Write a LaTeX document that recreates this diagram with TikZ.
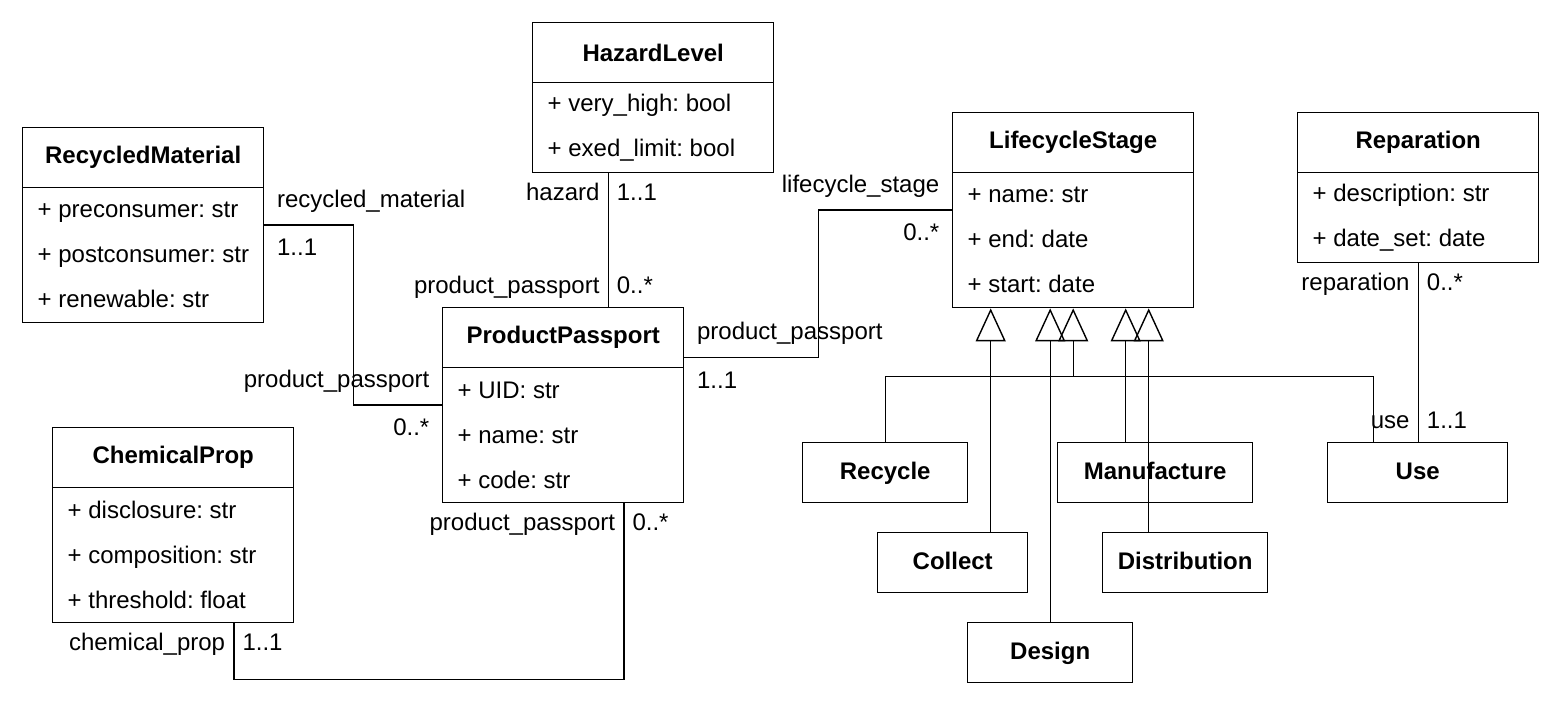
\documentclass[tikz,border=0pt]{standalone}
\usepackage{fontspec}
\setmainfont{Liberation Sans}
\usetikzlibrary{shapes.multipart,arrows.meta,calc}

\newcommand{\ufont}{\fontsize{12}{14.4}\selectfont\frenchspacing}
\newcommand{\ctitle}[1]{\parbox[c][29.3pt][c]{120.5pt}{\ufont\centering\bfseries #1}}
\newcommand{\cattr}[2]{\parbox[c][#1][c]{120.5pt}{\ufont\raggedright\leftskip=7.5pt\baselineskip=22.5pt #2}}

\tikzset{
	cls/.style={draw,line width=0.7pt,rectangle split,rectangle split parts=2,inner sep=0pt,anchor=north west,font=\ufont},
	sub/.style={draw,line width=0.7pt,anchor=north west,minimum height=30pt,inner sep=0pt,text height=9pt,text depth=2.5pt,font=\ufont\bfseries},
	lbl/.style={inner sep=4pt,text height=9pt,text depth=2.5pt,font=\ufont},
	hlbl/.style={lbl,inner sep=6pt},
	assoc/.style={line width=0.7pt},
	inh/.style={line width=0.7pt,-{Triangle[open,length=16.5pt,width=15pt]}}
}

\begin{document}
\begin{tikzpicture}[x=0.5pt,y=-0.5pt]
	\useasboundingbox (0,0) rectangle (1560,705);
	\node[cls] (hz) at (532,22) {\ctitle{HazardLevel}\nodepart{two}\cattr{44.3pt}{+ very\_high: bool\\+ exed\_limit: bool}};
	\node[cls] (rm) at (22,127) {\ctitle{RecycledMaterial}\nodepart{two}\cattr{66.8pt}{+ preconsumer: str\\+ postconsumer: str\\+ renewable: str}};
	\node[cls] (pp) at (442,307) {\ctitle{ProductPassport}\nodepart{two}\cattr{66.8pt}{+ UID: str\\+ name: str\\+ code: str}};
	\node[cls] (cp) at (52,427) {\ctitle{ChemicalProp}\nodepart{two}\cattr{66.8pt}{+ disclosure: str\\+ composition: str\\+ threshold: float}};
	\node[cls] (ls) at (952,112) {\ctitle{LifecycleStage}\nodepart{two}\cattr{66.8pt}{+ name: str\\+ end: date\\+ start: date}};
	\node[cls] (rep) at (1297,112) {\ctitle{Reparation}\nodepart{two}\cattr{44.3pt}{+ description: str\\+ date\_set: date}};
	\node[sub,minimum width=82.5pt] (recycle) at (802,442) {Recycle};
	\node[sub,minimum width=97.5pt] (manu) at (1057,442) {Manufacture};
	\node[sub,minimum width=90pt] (use) at (1327,442) {Use};
	\node[sub,minimum width=75pt] (collect) at (877,532) {Collect};
	\node[sub,minimum width=82.5pt] (dist) at (1102,532) {Distribution};
	\node[sub,minimum width=82.5pt] (design) at (967,622) {Design};

	\coordinate (hzpp) at ([xshift=22.5pt]pp.north);
	\draw[assoc] (hzpp |- hz.south) -- node[lbl,at start,anchor=north east] (hzA) {hazard} node[lbl,at start,anchor=north west] (hzB) {1..1} node[lbl,at end,anchor=south east] (hzC) {product\_passport} node[lbl,at end,anchor=south west] (hzD) {0..*} (hzpp);
	\coordinate (rmpp) at ($(rm.east)!.5!(pp.west)$);
	\draw[assoc] (rm.east) -| node[hlbl,at start,anchor=south west] (rmA) {recycled\_material} node[hlbl,at start,anchor=north west] (rmB) {1..1} (rmpp) |- node[hlbl,at end,anchor=south east] (rmC) {product\_passport} node[hlbl,at end,anchor=north east] (rmD) {0..*} (pp.west);
	\coordinate (ppR) at ([yshift=23.75pt]pp.east);
	\coordinate (ppls) at ($(ppR)!.5!(ls.west)$);
	\draw[assoc] (ppR) -| node[hlbl,at start,anchor=south west] (plA) {product\_passport} node[hlbl,at start,anchor=north west] (plB) {1..1} (ppls) |- node[hlbl,at end,anchor=south east] (plC) {lifecycle\_stage} node[hlbl,at end,anchor=north east] (plD) {0..*} (ls.west);
	\coordinate (ppB) at ($(pp.south west)!.75!(pp.south east)$);
	\coordinate (cpB) at ($(cp.south west)!.75!(cp.south east)$);
	\draw[assoc] (ppB) -- node[lbl,at start,anchor=north east] (pcA) {product\_passport} node[lbl,at start,anchor=north west] (pcB) {0..*} ++(0,176) -| node[lbl,at end,anchor=north east] (pcC) {chemical\_prop} node[lbl,at end,anchor=north west] (pcD) {1..1} (cpB);
	\draw[assoc] (rep.south) -- node[lbl,at start,anchor=north east] (ruA) {reparation} node[lbl,at start,anchor=north west] (ruB) {0..*} node[lbl,at end,anchor=south east] (ruC) {use} node[lbl,at end,anchor=south west] (ruD) {1..1} (rep.south |- use.north);

	\coordinate (gen) at ([yshift=-34pt]ls.south);
	\coordinate (useT) at ([xshift=-22pt]use.north);
	\coordinate (colT) at ([xshift=19pt]collect.north);
	\coordinate (manT) at ([xshift=-14.75pt]manu.north);
	\coordinate (disT) at ([xshift=-18.25pt]dist.north);
	\draw[inh] (recycle.north) |- (gen) -- (ls.south);
	\draw[assoc] (useT) |- (gen);
	\draw[inh] (colT) -- (colT |- ls.south);
	\draw[inh] (design.north) -- (design.north |- ls.south);
	\draw[inh] (manT) -- (manT |- ls.south);
	\draw[inh] (disT) -- (disT |- ls.south);
\end{tikzpicture}
\end{document}
